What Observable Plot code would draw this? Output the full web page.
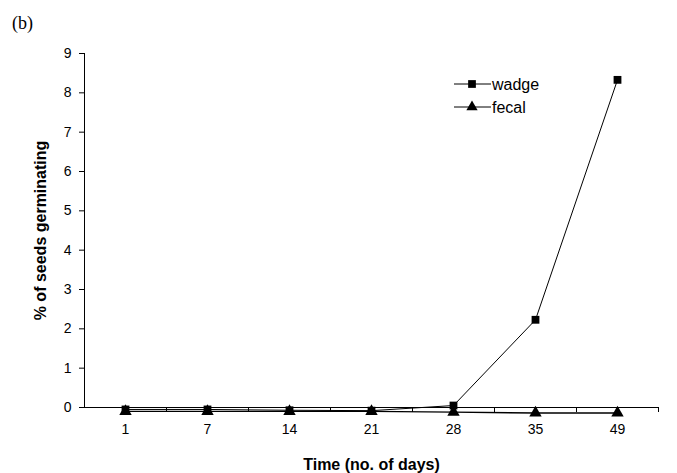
<!DOCTYPE html>
<html>
<head>
<meta charset="utf-8">
<script src="https://cdn.jsdelivr.net/npm/d3@7"></script>
<script src="https://cdn.jsdelivr.net/npm/@observablehq/plot@0.6"></script>
<style>
  html, body { margin: 0; padding: 0; background: #fff; }
  #wrap { position: relative; width: 677px; height: 473px; }
  #tag { height: 36px; font-family: "Liberation Serif", serif; font-size: 18px; padding-left: 12px; line-height: 46px; box-sizing: border-box; }
  #legend { position: absolute; left: 448px; top: 70px; }
  svg [aria-label="x-axis label"] text, svg [aria-label="y-axis label"] text { font-weight: bold; font-size: 16px; }
</style>
</head>
<body>
<div id="wrap">
  <div id="tag">(b)</div>
  <div id="chart"></div>
  <div id="legend"></div>
</div>
<script>
const days = ["1", "7", "14", "21", "28", "35", "49"];
const wadge = [-0.05, -0.05, -0.07, -0.08, 0.05, 2.23, 8.33];
const fecal = [-0.1, -0.1, -0.1, -0.1, -0.12, -0.14, -0.14];
const yTicks = [0, 1, 2, 3, 4, 5, 6, 7, 8, 9];
const seriesNames = ["wadge", "fecal"];

const rows = days.map((d, i) => ({ pos: i + 0.5, day: d, wadge: wadge[i], fecal: fecal[i] }));
const boundaries = days.map((d, i) => i + 1);

const plot = Plot.plot({
  width: 677,
  height: 437,
  marginLeft: 84,
  marginRight: 19,
  marginTop: 17,
  marginBottom: 66,
  style: { fontFamily: "Liberation Sans, Arial, sans-serif", fontSize: "14px", color: "#000" },
  x: { type: "linear", domain: [0, days.length] },
  y: { domain: [0, 9] },
  marks: [
    Plot.axisY({ ticks: yTicks, tickSize: 5, tickPadding: 8, label: "% of seeds germinating", labelArrow: false, labelAnchor: "center", labelOffset: 50 }),
    Plot.axisX({ ticks: boundaries, tickSize: 5, tickFormat: () => "", label: null }),
    Plot.axisX({ ticks: rows.map(d => d.pos), tickSize: 0, tickPadding: 17, tickFormat: v => days[Math.floor(v)], label: "Time (no. of days)", labelArrow: false, labelAnchor: "center", labelOffset: 62 }),
    Plot.ruleY([0], { stroke: "#000", strokeWidth: 1 }),
    Plot.ruleX([0], { y1: 0, y2: 9, stroke: "#000", strokeWidth: 1 }),
    Plot.line(rows, { x: "pos", y: "fecal", stroke: "#000", strokeWidth: 1.3 }),
    Plot.line(rows, { x: "pos", y: "wadge", stroke: "#000", strokeWidth: 1 }),
    Plot.dot(rows, { x: "pos", y: "fecal", symbol: "triangle", r: 4.6, fill: "#000", stroke: "none" }),
    Plot.dot(rows, { x: "pos", y: "wadge", symbol: "square", r: 4.4, fill: "#000", stroke: "none" })
  ]
});
document.getElementById("chart").appendChild(plot);

// legend (line + marker + label), like the original in-plot key
const lsvg = d3.create("svg").attr("width", 120).attr("height", 50);
seriesNames.forEach((name, k) => {
  const g = lsvg.append("g").attr("transform", `translate(0,${14 + k * 23})`);
  g.append("line").attr("x1", 6).attr("x2", 43).attr("y1", 0).attr("y2", 0).attr("stroke", "#000").attr("stroke-width", 1);
  g.append("path").attr("transform", "translate(24,0)")
    .attr("d", d3.symbol(k === 0 ? d3.symbolSquare : d3.symbolTriangle, k === 0 ? 60 : 55)())
    .attr("fill", "#000");
  g.append("text").attr("x", 44).attr("y", 0).attr("dy", "0.35em")
    .attr("font-family", "Liberation Sans, Arial, sans-serif").attr("font-size", 16).text(name);
});
document.getElementById("legend").appendChild(lsvg.node());
</script>
</body>
</html>
